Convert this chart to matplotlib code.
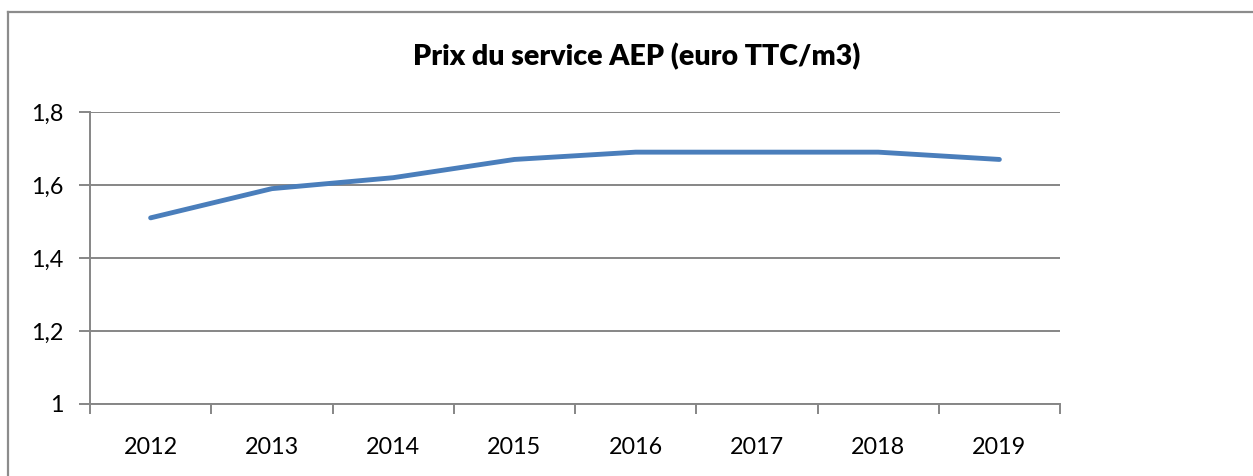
import matplotlib.pyplot as plt
from matplotlib.lines import Line2D
from matplotlib.ticker import FixedLocator, FuncFormatter

years = ["2012", "2013", "2014", "2015", "2016", "2017", "2018", "2019"]
prix = [1.51, 1.59, 1.62, 1.67, 1.69, 1.69, 1.69, 1.67]
y_ticks = [1.0, 1.2, 1.4, 1.6, 1.8]

plt.rcParams["font.family"] = ["Lato", "DejaVu Sans"]

fig = plt.figure(figsize=(12.53, 4.76), dpi=100)
W, H = 1253, 476

# chart frame: only left and top edges are inside the picture
fx, fy = 8 / W, 1 - 12 / H
fig.lines.append(Line2D([fx, fx], [0, fy], transform=fig.transFigure, color="#8c8c8c", linewidth=1.6))
fig.lines.append(Line2D([fx, 1], [fy, fy], transform=fig.transFigure, color="#8c8c8c", linewidth=1.6))

ax = fig.add_axes([90 / W, 1 - 404 / H, (1060 - 90) / W, (404 - 112) / H])

x = list(range(len(years)))
ax.plot(x, prix, color="#4a7ebb", linewidth=3.5, solid_capstyle="round", solid_joinstyle="round", zorder=3)

ax.set_xlim(-0.5, len(years) - 0.5)
ax.set_ylim(1.0, 1.8)
ax.set_yticks(y_ticks)
ax.yaxis.set_major_formatter(FuncFormatter(lambda v, p: ("%g" % v).replace(".", ",")))
ax.grid(axis="y", color="#868686", linewidth=1.4)

ax.set_xticks([i + 0.5 for i in range(-1, len(years))])
ax.set_xticklabels([])
ax.xaxis.set_minor_locator(FixedLocator(x))
ax.set_xticklabels(years, minor=True)
ax.tick_params(axis="x", which="minor", length=0, pad=24, labelsize=16.8)
ax.tick_params(axis="x", which="major", length=7, width=1.4, color="#868686", direction="out")
ax.tick_params(axis="y", length=8, width=1.4, color="#868686", pad=11, labelsize=16.8)

for side in ["top", "right"]:
    ax.spines[side].set_visible(False)
for side in ["left", "bottom"]:
    ax.spines[side].set_color("#868686")
    ax.spines[side].set_linewidth(1.4)

fig.text(637 / W, 1 - 57 / H, "Prix du service AEP (euro TTC/m3)", ha="center", va="center",
         fontsize=20.5, fontweight="heavy")

fig.savefig("out.png", dpi=100)
